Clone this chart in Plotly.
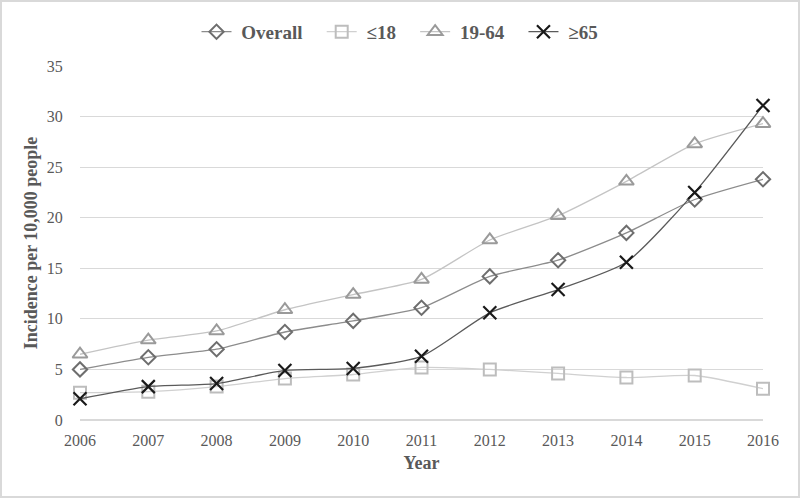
import plotly.graph_objects as go

years = [2006, 2007, 2008, 2009, 2010, 2011, 2012, 2013, 2014, 2015, 2016]
overall = [5.0, 6.2, 7.0, 8.7, 9.8, 11.1, 14.2, 15.8, 18.5, 21.8, 23.8]
under18 = [2.7, 2.8, 3.3, 4.1, 4.5, 5.2, 5.0, 4.6, 4.2, 4.4, 3.1]
age19_64 = [6.5, 7.9, 8.8, 10.9, 12.4, 13.9, 17.8, 20.2, 23.6, 27.3, 29.3]
over65 = [2.1, 3.3, 3.6, 4.9, 5.1, 6.3, 10.6, 12.9, 15.6, 22.5, 31.1]

nb = "\u00a0"

fig = go.Figure()

fig.add_trace(go.Scatter(
    x=years, y=overall, name=nb + "<b>Overall</b>" + nb * 3, mode="lines+markers",
    line=dict(color="#8c8c8c", width=1.3, shape="spline", smoothing=0.6),
    marker=dict(symbol="diamond-open", size=11, color="#6e6e6e", line=dict(width=2)),
    cliponaxis=False,
))
fig.add_trace(go.Scatter(
    x=years, y=under18, name=nb + "<b>≤18</b>" + nb * 3, mode="lines+markers",
    line=dict(color="#d0d0d0", width=1.3, shape="spline", smoothing=0.6),
    marker=dict(symbol="square-open", size=12, color="#bdbdbd", line=dict(width=2)),
    cliponaxis=False,
))
fig.add_trace(go.Scatter(
    x=years, y=age19_64, name=nb + "<b>19-64</b>" + nb * 3, mode="lines+markers",
    line=dict(color="#c4c4c4", width=1.3, shape="spline", smoothing=0.6),
    marker=dict(symbol="triangle-up-open", size=13, color="#9a9a9a", line=dict(width=2)),
    cliponaxis=False,
))
fig.add_trace(go.Scatter(
    x=years, y=over65, name=nb + "<b>≥65</b>", mode="lines+markers",
    line=dict(color="#5a5a5a", width=1.3, shape="spline", smoothing=0.6),
    marker=dict(symbol="x-thin-open", size=13, color="#1a1a1a", line=dict(width=2.2)),
    cliponaxis=False,
))

fig.update_layout(
    width=800, height=498,
    paper_bgcolor="white", plot_bgcolor="white",
    margin=dict(l=80, r=37, t=66, b=78, autoexpand=False),
    font=dict(family="Liberation Serif", size=16, color="#595959"),
    legend=dict(
        orientation="h", xref="container", x=0.5, xanchor="center",
        yref="container", y=0.936, yanchor="middle",
        font=dict(family="Liberation Serif", size=19, color="#595959"),
        tracegroupgap=0,
    ),
    xaxis=dict(
        range=[2006, 2016], tickmode="array", tickvals=years,
        showgrid=False, zeroline=False, showline=False,
        ticks="outside", ticklen=6, tickcolor="rgba(0,0,0,0)",
        title=dict(text="<b>Year</b>", font=dict(size=18, color="#595959"), standoff=8),
    ),
    yaxis=dict(
        range=[0, 35], dtick=5, showgrid=True, gridcolor="#d9d9d9", gridwidth=1,
        zeroline=True, zerolinecolor="#d9d9d9", showline=False,
        ticks="outside", ticklen=13, tickcolor="rgba(0,0,0,0)",
        title=dict(text="<b>Incidence per 10,000 people</b>", font=dict(size=18, color="#595959"), standoff=4),
    ),
    shapes=[dict(
        type="rect", xref="paper", yref="paper",
        x0=-0.1157, x1=1.0527, y0=-0.2175, y1=1.1836,
        line=dict(color="#d9d9d9", width=2), layer="below",
    )],
)

fig.write_html("out.html", config={"displayModeBar": False},
               post_script="document.body.style.margin='0px';")
